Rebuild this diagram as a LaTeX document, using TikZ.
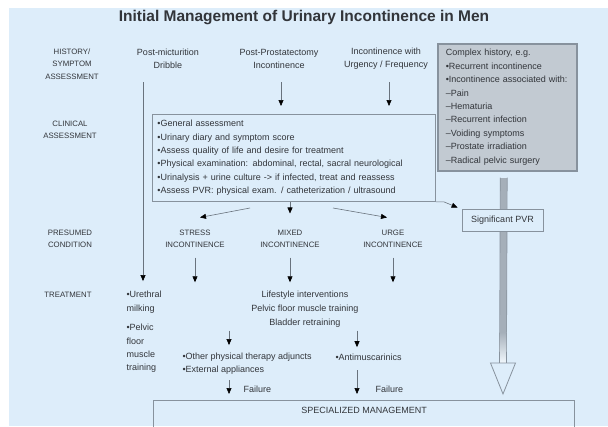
\documentclass[tikz,border=0pt]{standalone}
\usepackage{fontspec}
\setmainfont{Liberation Sans}
\usepackage{tikz}
\usetikzlibrary{arrows.meta,positioning}
\definecolor{bgblue}{RGB}{221,237,250}
\definecolor{boxgray}{RGB}{194,202,210}
\definecolor{edgegray}{RGB}{135,146,157}
\definecolor{linegray}{RGB}{105,115,125}
\definecolor{txtgray}{RGB}{50,53,58}
\definecolor{shaftgray}{RGB}{165,175,185}
\tikzset{
  rowlabel/.style={align=center, font=\fontsize{7.8}{12.5}\selectfont, text=txtgray},
  colhead/.style={align=center, font=\fontsize{9}{13}\selectfont, text=txtgray},
  bodytext/.style={align=left, font=\fontsize{9}{13.4}\selectfont, text=txtgray},
  listbox/.style={bodytext, draw=edgegray, line width=0.8pt, anchor=north west},
  arr/.style={draw=linegray, line width=0.6pt, -{Triangle[length=6pt,width=5pt,color=black]}},
}

\begin{document}
\begin{tikzpicture}[x=1pt, y=-1pt]
\useasboundingbox (0,0) rectangle (608,426);
\fill[white] (0,0) rectangle (608,426);
\fill[bgblue] (9,8) rectangle (608,426);

\node[font=\bfseries\fontsize{15.5}{18}\selectfont, text=txtgray] (title) at (304,18) {Initial Management of Urinary Incontinence in Men};

\node[rowlabel] (history) at (72,64) {HISTORY/\\SYMPTOM\\ASSESSMENT};
\node[rowlabel] (clinlabel) at (70,130) {CLINICAL\\ASSESSMENT};
\node[rowlabel] (presumed) at (70,239) {PRESUMED\\CONDITION};
\node[rowlabel] (treatlabel) at (68,295) {TREATMENT};

\node[colhead] (dribble) at (168,58.5) {Post-micturition\\Dribble};
\node[colhead] (prostat) at (279,58.5) {Post-Prostatectomy\\Incontinence};
\node[colhead] (urgency) at (386,58.5) {Incontinence with\\Urgency / Frequency};

\node[listbox, fill=boxgray, line width=1.5pt, text width=123pt, minimum height=127pt, inner xsep=8pt, inner ysep=3pt] (complex) at (437,43)
  {Complex history, e.g.\\•Recurrent incontinence\\•Incontinence associated with:\\–Pain\\–Hematuria\\–Recurrent infection\\–Voiding symptoms\\–Prostate irradiation\\–Radical pelvic surgery};

\node[listbox, text width=273pt, minimum height=87pt, inner xsep=5pt, inner ysep=3pt] (clinical) at (152,114)
  {•General assessment\\•Urinary diary and symptom score\\•Assess quality of life and desire for treatment\\•Physical examination: abdominal, rectal, sacral neurological\\•Urinalysis + urine culture -> if infected, treat and reassess\\•Assess PVR: physical exam. / catheterization / ultrasound};

\coordinate (shafttop) at ([xshift=-3.5pt, yshift=-6pt]complex.south);
\coordinate (shaftmid) at (503,332);
\coordinate (shaftend) at (503,363);
\coordinate (bigtip) at (503,394);
\fill[shaftgray] ([xshift=-3.5pt]shafttop) rectangle ([xshift=3.5pt]shaftmid);
\shade[top color=shaftgray, bottom color=white!60!bgblue] ([xshift=-3.5pt]shaftmid) rectangle ([xshift=3.5pt]shaftend);
\draw[edgegray, line width=0.6pt] ([xshift=-3.5pt]shafttop) -- ([xshift=-3.5pt]shaftend);
\draw[edgegray, line width=0.6pt] ([xshift=3.5pt]shafttop) -- ([xshift=3.5pt]shaftend);
\draw[edgegray, fill=bgblue, line width=0.8pt] ([xshift=-12.5pt]shaftend) -- ([xshift=12.5pt]shaftend) -- (bigtip) -- cycle;

\node[colhead, draw=edgegray, fill=bgblue, line width=0.8pt, minimum width=81pt, minimum height=22pt] (pvr) at (502.5,220) {Significant PVR};

\node[rowlabel] (stress) at (195,239) {STRESS\\INCONTINENCE};
\node[rowlabel] (mixed) at (290,239) {MIXED\\INCONTINENCE};
\node[rowlabel] (urge) at (393,239) {URGE\\INCONTINENCE};

\node[bodytext, anchor=west] (urethral) at (123,302) {•Urethral\\milking};
\node[bodytext, anchor=west] (pelvic) at (123,348.5) {•Pelvic\\floor\\muscle\\training};
\node[colhead, font=\fontsize{9}{14}\selectfont] (lifestyle) at (305,309) {Lifestyle interventions\\Pelvic floor muscle training\\Bladder retraining};
\node[bodytext, anchor=west] (adjuncts) at (179,363.5) {•Other physical therapy adjuncts\\•External appliances};
\node[bodytext, anchor=west] (antimus) at (332,357) {•Antimuscarinics};

\node[draw=edgegray, line width=1.2pt, anchor=north west, minimum width=421pt, text height=9pt, text depth=26pt, inner ysep=4pt, font=\fontsize{9}{11}\selectfont, text=txtgray] (special) at (153,400) {SPECIALIZED MANAGEMENT};

\coordinate (dribblefoot) at (143,82);
\coordinate (prostatfoot) at (281,82);
\coordinate (urgencyfoot) at (389,82);
\coordinate (stresstail) at (250,208);
\coordinate (urgetail) at (333,208);
\coordinate (failA) at (229,380);
\coordinate (failB) at (357,370);

\draw[arr, shorten >=6.5pt] (dribblefoot) -- (dribblefoot |- urethral.north);
\draw[arr, shorten >=8pt] (prostatfoot) -- (prostatfoot |- clinical.north);
\draw[arr, shorten >=8pt] (urgencyfoot) -- (urgencyfoot |- clinical.north);
\draw[arr] (stresstail) -- ([xshift=5pt, yshift=9pt]stress.north);
\draw[arr] (mixed.north |- clinical.south) -- ([yshift=13pt]mixed.north);
\draw[arr] (urgetail) -- ([xshift=-6pt, yshift=9pt]urge.north);
\draw[arr] (clinical.south east) -- ++(8,0) -- ([xshift=-4pt, yshift=1pt]pvr.north west);
\draw[arr, shorten <=6pt, shorten >=5pt] (stress.south) -- (stress.south |- lifestyle.north);
\draw[arr, shorten <=6pt, shorten >=5pt] (mixed.south) -- (mixed.south |- lifestyle.north);
\draw[arr, shorten <=6pt, shorten >=5pt] (urge.south) -- (urge.south |- lifestyle.north);
\draw[arr, shorten >=4pt] (lifestyle.south -| failA) -- (adjuncts.north -| failA);
\draw[arr, shorten >=3pt] (lifestyle.south -| failB) -- (antimus.north -| failB);
\draw[arr, shorten >=6pt] (failA) -- (failA |- special.north);
\draw[arr, shorten >=6pt] (failB) -- (failB |- special.north);
\node[colhead, anchor=west] (failureA) at (240,389) {Failure};
\node[colhead, anchor=west] (failureB) at (372,389) {Failure};
\end{tikzpicture}
\end{document}
